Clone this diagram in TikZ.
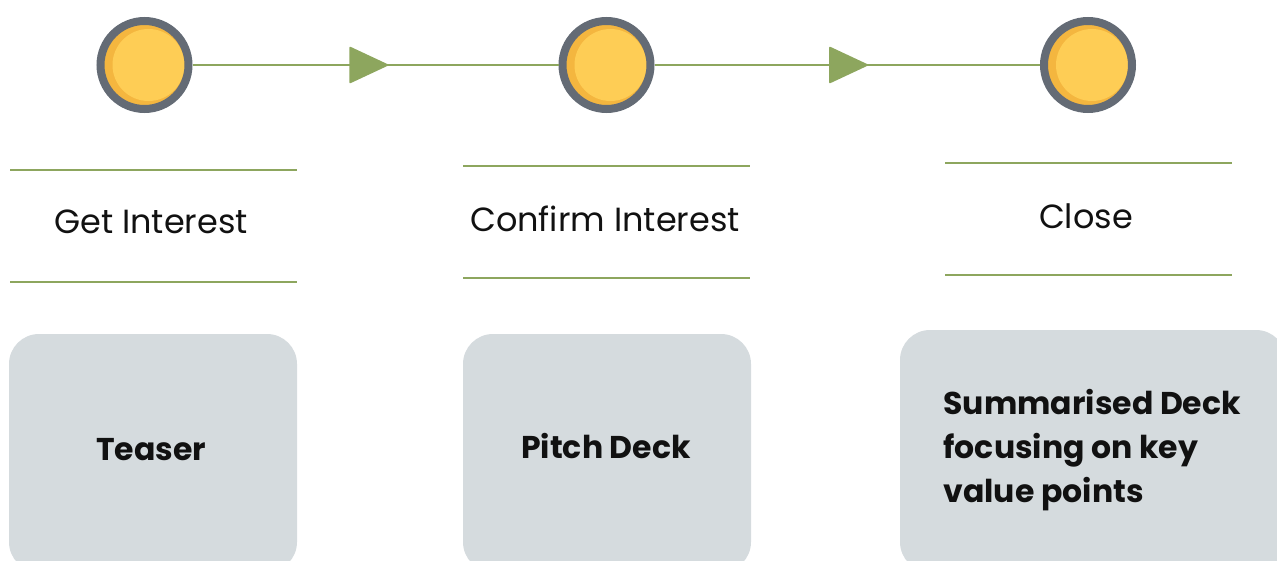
\documentclass[tikz,border=0pt]{standalone}
\usepackage{fontspec}
\setmainfont{Poppins}
\usetikzlibrary{arrows.meta,decorations.markings}
\definecolor{ringgray}{HTML}{646B75}
\definecolor{sunshade}{HTML}{F4B63F}
\definecolor{sunlight}{HTML}{FECD55}
\definecolor{leaf}{HTML}{8DA65E}
\definecolor{cardgray}{HTML}{D5DBDE}
\definecolor{ink}{HTML}{111111}
\tikzset{
  milestone/.style={circle,minimum size=88pt,inner sep=0pt,draw=ringgray,line width=8pt,fill=sunshade,
    path picture={\fill[sunlight] ([xshift=4pt]path picture bounding box.center) circle (36pt);}},
  flow/.style={draw=leaf,line width=1.6pt},
  flowtip/.style={postaction={decorate},decoration={markings,
    mark=at position #1 with {\arrow{Triangle[length=40pt,width=37pt,round]}}}},
  rule/.style={draw=leaf,line width=1.4pt},
  stage/.style={font=\fontsize{33.5}{40}\selectfont,text=ink},
  card/.style={fill=cardgray,rounded corners=30pt},
  cardtext/.style={font=\fontsize{31.5}{44}\selectfont\bfseries,text=ink}
}
\begin{document}
\begin{tikzpicture}[x=1pt,y=-1pt]
\useasboundingbox (0,0) rectangle (1277,561);
% milestones and flow
\node[milestone] (m1) at (144.5,65) {};
\node[milestone] (m2) at (606.5,65) {};
\node[milestone] (m3) at (1088,65) {};
\draw[flow,flowtip=0.535,leaf] (m1.east) -- (m2.west);
\draw[flow,flowtip=0.554,leaf] (m2.east) -- (m3.west);
% stage titles between rules
\draw[rule] (10,170) -- (297,170);
\draw[rule] (10,282) -- (297,282);
\node[stage] (s1) at (151,222) {Get Interest};
\draw[rule] (463,166) -- (750,166);
\draw[rule] (463,278) -- (750,278);
\node[stage] (s2) at (605,219) {Confirm Interest};
\draw[rule] (945,163) -- (1232,163);
\draw[rule] (945,275) -- (1232,275);
\node[stage] (s3) at (1086,216) {Close};
% cards
\fill[card] (9,334) rectangle (297,572);
\node[cardtext] (t1) at (151,450) {Teaser};
\fill[card] (463,334) rectangle (751,572);
\node[cardtext] (t2) at (606,446) {Pitch Deck};
\fill[card] (900,330) rectangle (1286,572);
\node[cardtext,align=left,anchor=west] (t3) at (940,450) {Summarised Deck\\focusing on key\\value points};
\end{tikzpicture}
\end{document}
